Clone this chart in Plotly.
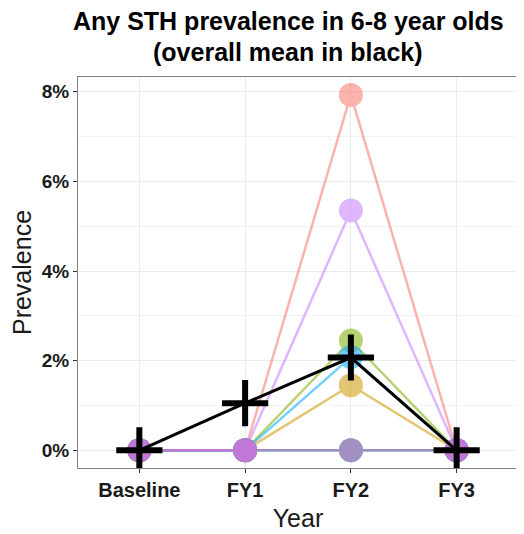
import plotly.graph_objects as go

years = ["Baseline", "FY1", "FY2", "FY3"]
group_names = ["G1", "G2", "G3", "G4", "G5", "G6", "G7", "G8"]
group_colors = ["#F8766D", "#CD9600", "#7CAE00", "#00BE67", "#00BFC4", "#00A9FF", "#C77CFF", "#FF61CC"]
group_values = [
    [0, 0, 7.93, 0],
    [0, 0, 1.45, 0],
    [0, 0, 2.45, 0],
    [0, 0, 0, 0],
    [0, 0, 0, 0],
    [0, 0, 2.08, 0],
    [0, 0, 5.35, 0],
    [0, 0, 0, 0],
]
mean_values = [0, 1.05, 2.07, 0]
y_ticks = [0, 2, 4, 6, 8]
y_ticklabels = ["0%", "2%", "4%", "6%", "8%"]
title_lines = ["Any STH prevalence in 6-8 year olds", "(overall mean in black)"]

fig = go.Figure()
xidx = list(range(len(years)))
for name, col, vals in zip(group_names, group_colors, group_values):
    fig.add_trace(go.Scatter(
        x=xidx, y=vals, mode="lines+markers", name=name,
        line=dict(color=col, width=2.5), opacity=0.55,
        marker=dict(size=24, color=col, line=dict(width=0)),
        showlegend=False))
fig.add_trace(go.Scatter(
    x=xidx, y=mean_values, mode="lines+markers", name="Mean",
    line=dict(color="black", width=3),
    marker=dict(symbol="cross-thin", size=33, color="black",
                line=dict(width=6, color="black")),
    showlegend=False))

annots = []
for line, ypos in zip(title_lines, [1.143, 1.064]):
    annots.append(dict(
        text=f"<b>{line}</b>", xref="paper", yref="paper", x=0.478, y=ypos,
        xanchor="center", yanchor="middle", showarrow=False, borderpad=0,
        font=dict(size=25, color="black")))

fig.update_layout(
    width=516, height=526,
    margin=dict(l=70, r=6, t=69, b=66),
    paper_bgcolor="white", plot_bgcolor="white",
    font=dict(family="Liberation Sans, Arial", color="black"),
    annotations=annots,
    xaxis=dict(range=[-0.58, 3.58], tickmode="array", tickvals=xidx, ticktext=[f"<b>{y}</b>" for y in years],
               showgrid=True, gridcolor="#EBEBEB", gridwidth=1.2,
               showline=True, mirror=True, linecolor="#7F7F7F", linewidth=1.2,
               ticks="outside", ticklen=4, tickcolor="#333333", zeroline=False,
               tickfont=dict(size=20, color="#1A1A1A"),
               title=dict(text="Year", font=dict(size=25, color="#1A1A1A"), standoff=9)),
    yaxis=dict(range=[-0.396, 8.33], tickmode="array", tickvals=y_ticks, ticktext=[f"<b>{t}</b>" for t in y_ticklabels],
               showgrid=True, gridcolor="#EBEBEB", gridwidth=1.2,
               minor=dict(tickvals=[1, 3, 5, 7], showgrid=True, gridcolor="#F3F3F3", gridwidth=0.8),
               showline=True, mirror=True, linecolor="#7F7F7F", linewidth=1.2,
               ticks="outside", ticklen=4, tickcolor="#333333", zeroline=False,
               tickfont=dict(size=19, color="#1A1A1A"),
               title=dict(text="Prevalence", font=dict(size=25, color="#1A1A1A"), standoff=6)),
)
fig.write_html("out.html")
